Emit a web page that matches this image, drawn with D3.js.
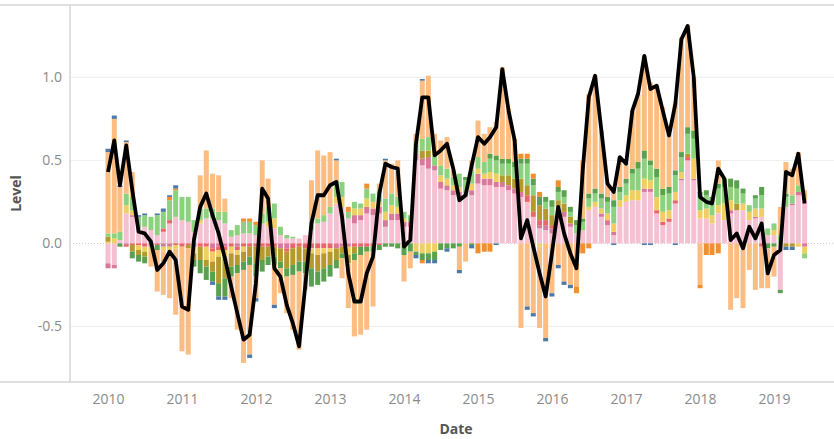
<!DOCTYPE html>
<html>
<head>
<meta charset="utf-8">
<script src="https://cdn.jsdelivr.net/npm/d3@7"></script>
<style>
  body { margin: 0; background: #fff; }
  svg { display: block; }
</style>
</head>
<body>
<script>
// monthly contributions, Jan 2010 .. Jun 2019
const firstMonth = new Date(2010, 0, 1)
const endMonth = new Date(2019, 6, 1)

const pink = [-0.12,-0.13,0.02,0.18,0.16,0.09,0.10,0.08,0.05,0.07, 0.12,0.16,0.14,0.13,0.07,0.12,0.15,0.15,0.14,0.12,
  0.04,0.05,0.06,0.06,0.05,0.12,0.10,0.09,0.05,0.03, 0.03,0.03,0.05,0.08,0.12,0.13,0.18,0.24,0.22,0.15,
  0.12,0.14,0.18,0.17,0.18,0.10,0.14,0.14,0.10,0.10, 0.50,0.47,0.45,0.44,0.33,0.32,0.29,0.28,0.28,0.29,
  0.36,0.35,0.35,0.34,0.34,0.32,0.30,0.28,0.25,0.16, 0.09,0.08,0.06,0.22,0.16,0.10,0.06,0.08,0.20,0.22,
  0.16,0.11,0.05,0.22,0.25,0.26,0.26,0.31,0.31,0.18, 0.11,0.13,0.24,0.38,0.50,0.38,0.15,0.15,0.12,0.18,
  0.14,0.18,0.20,0.20,0.14,0.15,0.16,0.05,0.05,-0.28, 0.22,0.23,0.29,0.26]

const dpink = [-0.03,-0.02,0,-0.01,0.01,0,0,-0.02,0,-0.02, -0.02,0,0,0,-0.02,0,0,-0.03,-0.02,-0.02,
  0,-0.02,0,0,0,0,0,0,-0.03,-0.03, 0,0,0,0,0,0,0,-0.03,-0.02,-0.02,
  0.05,0.03,0.04,0.04,0.04,0.04,0.04,0.04,0.03,0.03, 0.04,0.04,0.07,0.03,0.04,0.03,0.03,0.03,0.02,0.03,
  0.06,0.04,0.04,0.03,0.03,0.03,0.03,0.03,0,0, 0.02,0.03,0.03,0,0.03,0.02,0,0,0,0,
  0.02,0.03,0.02,0,0,0,0,0.02,0.02,0, 0,0,0,0.01,0,0.01,0,0,0,0,
  0,0.02,0,0,0,0.01,0,0,0,0, 0,0.01,0.02,-0.02]

const red = [0,0,0,-0.01,-0.01,-0.01,-0.02,0,-0.01,0.02, 0.02,-0.01,-0.02,-0.01,0,-0.02,-0.02,-0.02,-0.02,-0.02,
  -0.02,-0.02,-0.02,-0.02,-0.02,-0.02,-0.02,-0.02,0,-0.02, -0.03,-0.02,-0.03,-0.03,-0.03,-0.03,-0.03,0,0,0,
  -0.02,-0.02,-0.02,-0.02,-0.01,0,0,0,-0.02,0, 0,0,0,0,0,0,0,0,0,0,
  0,0,0,0,0,0,0,0,0.04,0.03, 0.03,0.03,0.02,0,0,0,0,0,0,0,
  0,0,0,0,0,0,0,0,0,0.02, 0.02,0.02,0.02,0,0.02,0,0,0,0,0,
  0,0,0,0,0,0,-0.02,0,0,0, 0,0,0,0]

const yellow = [0.01,0.03,0,0.05,0.03,-0.03,-0.03,-0.02,0,-0.03, -0.02,-0.02,0,0,-0.04,0.02,-0.08,-0.06,-0.04,-0.05,
  -0.04,-0.03,-0.03,0,0,0,0.03,0.06,0,0, 0,0,0,-0.03,-0.04,-0.03,-0.02,0.04,0.06,-0.05,
  0.04,0.04,0.05,0.04,0.03,0.05,0.05,0.04,0.02,0, -0.05,-0.06,-0.06,-0.05,0.04,0.04,0.03,0.03,0,0.04,
  0.03,0.03,0.04,0.05,0,0,0,0,0,0, -0.02,0,0,0,0,0,0,0,0.02,0.03,
  0.03,0.04,0.05,0.04,0.04,0.06,0.06,0.06,0.05,0.08, 0.06,0.05,0.05,0.04,0,0.12,0.05,0.06,0.05,0.05,
  0.10,0.06,0,0.04,0.05,0.05,0.05,0,0.03,0, 0,0,-0.02,-0.04]

const olive = [0.03,0,0,0,-0.04,-0.03,-0.03,0,0,0, 0,0,0,-0.02,-0.04,-0.08,-0.04,-0.06,-0.16,-0.12,
  -0.08,-0.06,-0.06,-0.06,-0.10,-0.08,-0.06,-0.06,-0.08,-0.10, -0.10,-0.09,-0.08,-0.09,-0.10,-0.09,-0.08,-0.07,-0.04,-0.05,
  -0.04,0,0,0,0,0,0,0,0,0, 0,0.05,0.04,0,0,0,0,0,0,0,
  0,0,0,0,0.04,0.06,0.06,0.08,0.06,0.10, 0.09,0.07,0.06,0.04,0.05,0.04,0,0,0,0,
  0,0,0,0,0,0,0,0,0,0, 0,0,0,0,0.02,0,0,0,0,0,
  0,0,0.04,0,0,0,0,0,0,0, -0.02,-0.02,0,0]

const lightGreen = [0.02,0.03,0.05,0.07,0.08,0.07,0.07,0.08,0.12,0.10, 0.12,0.16,0.14,0.15,0.07,0.07,0.06,0.06,0.05,0.07,
  0.04,0.06,0.07,0.07,0.06,0.06,0.09,0.09,0.05,0.02, 0.01,0,0,0.03,0.03,0.04,0.04,0.10,0.09,0.04,
  0.04,0.03,0.06,0.05,0.07,0.08,0.07,0.06,0.04,0.04, 0.07,0.07,0.08,0.06,0.06,0.06,0.05,0.08,0.08,0.08,
  0.07,0.07,0.08,0.08,0.07,0.07,0.07,0.09,0.13,0.06, 0,0.04,0.05,0.05,0.04,0.03,0.05,0.05,0.05,0.05,
  0.06,0.07,0.10,0.05,0.07,0.10,0.13,0.12,0.09,0.12, 0.10,0.10,0.10,0.09,0.12,0.12,0.08,0.08,0.08,0.10,
  0.10,0.08,0.09,0.06,0.04,0.06,0.08,0.04,0.04,0.05, 0.06,0.05,0.04,-0.03]

const green = [0,0,-0.02,0,-0.04,-0.04,-0.04,0,-0.03,0, 0,0,0,0,-0.04,-0.08,-0.08,-0.06,-0.08,-0.11,
  -0.06,-0.05,-0.05,-0.05,-0.08,-0.07,-0.05,-0.05,-0.04,-0.05, -0.06,-0.06,-0.07,-0.11,-0.08,-0.08,-0.07,-0.05,-0.03,0,
  -0.04,-0.05,-0.03,-0.03,-0.03,-0.02,-0.02,-0.03,-0.05,-0.05, -0.02,-0.04,-0.04,-0.05,-0.04,-0.03,-0.03,-0.02,0.02,-0.01,
  0,0,0.03,0.03,0.03,0.03,0.03,0.03,0.03,0.04, 0.05,0.03,0.04,0.03,0.04,0.03,0.03,0.02,0.03,0.03,
  0.03,0.03,0.04,0.03,0.03,0.03,0.04,0.05,0.03,0.05, 0.04,0.04,0.03,0.03,0.04,0.05,0.03,0.03,0.03,0.03,
  0.05,0.05,0.05,0.03,0,0.02,0.05,-0.03,-0.02,-0.02, 0.02,0,0,0]

const peach = [0.49,0.69,0.27,0.31,0.15,0,0,-0.10,-0.25,-0.26, -0.29,-0.40,-0.63,-0.64,0,0.20,0.35,0.21,0.22,0.08,
  -0.13,-0.34,-0.56,-0.54,-0.13,0.32,0.17,-0.24,-0.15,-0.22, -0.33,-0.47,-0.10,0.27,0.41,0.36,0.33,0.12,-0.12,-0.27,
  -0.46,-0.48,-0.47,-0.33,0.04,0.23,0.18,0.22,-0.16,-0.10, 0.05,0.35,0.37,0.13,0.15,0.19,0.04,-0.14,-0.11,0.06,
  0.22,0.17,0.16,0.20,0.55,0.30,0.14,-0.51,-0.38,-0.42, -0.49,-0.57,-0.30,-0.13,-0.23,-0.25,-0.26,0.35,0.60,0.68,
  0.38,0.09,0.05,0.18,0.09,0.35,0.41,0.57,0.47,0.50, 0.49,0.32,0.41,0.69,0.61,0.32,-0.25,0,0,0.14,
  0,-0.40,-0.33,-0.39,-0.16,-0.28,-0.25,-0.24,-0.18,0.17, 0.19,0.16,0.20,0.06]

const orange = [0,0,0,0,0,0,0,0,0,0, 0.02,0.01,0,0,0,0,0,0,0,0,
  0,0,0.02,0.02,0.02,0,0,0,0,0, 0,0,0,0,0,0,0,0,0,0.03,
  0,0,0.03,0,0,0,0,0,0,0, 0,-0.02,0,0,0,0,0,0,0,0,
  -0.06,-0.05,-0.05,0,0,0,0,0.03,0.03,0.03, 0.03,0,0,0.04,0,0,-0.04,-0.06,-0.03,0,
  0,0,0,0,0,0,0,0,0,0, 0,0,0,0,0,0,-0.02,-0.07,-0.07,-0.06,
  0,0,0,0,0,0,0,0,0,0, 0,0,0,0]

const blue = [0.02,0.02,0.01,0.01,0,0.01,0.01,0,0.01,0.02, 0.01,0.02,0,0,0,0,0,-0.02,-0.02,-0.02,
  0,0,0,-0.02,-0.02,0,0,-0.02,0,0, 0,0,0,0,0,0,0,0.01,0,0,
  0,0,0,0,0,0.01,0,0,0,0, -0.02,0.01,-0.02,-0.02,0,-0.02,0,-0.02,0,-0.02,
  0,0,0,-0.01,0,0,0,0,-0.02,-0.02, 0,-0.02,-0.02,-0.02,-0.02,-0.02,0,0,0,0,
  0,0,-0.01,0,0,0,0,-0.01,-0.01,0, 0,0,-0.01,0,0,0,0,0,0,0,
  0,0,0,0,0,0,0,0,0,0, -0.02,-0.02,0,0]

// total level (black line)
const level = [0.43,0.62,0.35,0.59,0.32,0.07,0.06,0.01,-0.16,-0.12, -0.05,-0.10,-0.38,-0.40,0.02,0.22,0.30,0.17,0.06,-0.09,
  -0.26,-0.42,-0.58,-0.55,-0.24,0.33,0.27,-0.15,-0.20,-0.37, -0.48,-0.62,-0.25,0.12,0.29,0.29,0.35,0.37,0.16,-0.18,
  -0.35,-0.35,-0.18,-0.08,0.30,0.48,0.46,0.45,-0.02,0.02, 0.60,0.88,0.88,0.53,0.56,0.60,0.45,0.26,0.29,0.47,
  0.64,0.60,0.64,0.70,1.05,0.80,0.62,0.03,0.14,-0.02, -0.18,-0.32,-0.06,0.22,0.06,-0.06,-0.15,0.44,0.88,1.01,
  0.68,0.36,0.31,0.52,0.48,0.80,0.90,1.13,0.93,0.95, 0.80,0.65,0.84,1.23,1.31,1.00,0.28,0.25,0.24,0.45,
  0.39,0.02,0.06,-0.03,0.10,0.03,0.12,-0.18,-0.07,-0.04, 0.43,0.41,0.54,0.24]

const yTicks = [-0.5, 0, 0.5, 1.0]

const keys = ['pink', 'dpink', 'red', 'yellow', 'olive', 'lightGreen', 'green', 'peach', 'orange', 'blue']
const values = { pink, dpink, red, yellow, olive, lightGreen, green, peach, orange, blue }
const colors = {
  pink: '#F5C0D2', dpink: '#D8799C', red: '#E8666A', yellow: '#F1CE63', olive: '#B6992D',
  lightGreen: '#8CD17D', green: '#59A14F', peach: '#FCBD82', orange: '#F28E2B', blue: '#4E79A7'
}

const months = d3.timeMonth.range(firstMonth, endMonth)
const rows = months.map((m, i) => {
  const r = { date: m }
  keys.forEach(k => { r[k] = values[k][i] })
  return r
})

const width = 834
const height = 439
const plot = { left: 70, right: 834, top: 5, bottom: 382 }

const svg = d3.select('body').append('svg')
  .attr('width', width)
  .attr('height', height)
  .style('font-family', "'Open Sans', sans-serif")

const x = d3.scaleTime()
  .domain([new Date(2010, 0, 1), new Date(2019, 0, 1)])
  .range([108, 774])

const y = d3.scaleLinear()
  .domain([-0.835, 1.436])
  .range([plot.bottom, plot.top])

// gridlines
svg.append('g')
  .selectAll('line')
  .data(yTicks.filter(t => t !== 0))
  .enter().append('line')
  .attr('x1', plot.left).attr('x2', plot.right)
  .attr('y1', d => y(d)).attr('y2', d => y(d))
  .style('stroke', '#eeeeee')
  .style('stroke-width', 1)

svg.append('line')
  .attr('x1', plot.left).attr('x2', plot.right)
  .attr('y1', y(0)).attr('y2', y(0))
  .style('stroke', '#c8c8c8')
  .style('stroke-width', 1)
  .style('stroke-dasharray', '1,2')

// stacked bars
const stacked = d3.stack()
  .keys(keys)
  .offset(d3.stackOffsetDiverging)(rows)

const barW = 5
svg.append('g')
  .selectAll('g')
  .data(stacked)
  .enter().append('g')
  .style('fill', d => colors[d.key])
  .selectAll('rect')
  .data(d => d.filter(s => s[1] !== s[0]))
  .enter().append('rect')
  .attr('x', d => x(d.data.date) - barW / 2)
  .attr('width', barW)
  .attr('y', d => y(Math.max(d[0], d[1])))
  .attr('height', d => Math.abs(y(d[0]) - y(d[1])))

// level line
const line = d3.line()
  .x((d, i) => x(months[i]))
  .y(d => y(d))

svg.append('path')
  .datum(level)
  .attr('d', line)
  .style('fill', 'none')
  .style('stroke', '#000')
  .style('stroke-width', 3.8)
  .style('stroke-linejoin', 'round')

// frame
const frame = svg.append('g').style('stroke', '#d6d6d6').style('stroke-width', 1.5)
frame.append('line').attr('x1', 0).attr('x2', width).attr('y1', plot.top).attr('y2', plot.top)
frame.append('line').attr('x1', 0).attr('x2', width).attr('y1', plot.bottom).attr('y2', plot.bottom)
frame.append('line').attr('x1', plot.left).attr('x2', plot.left).attr('y1', plot.top).attr('y2', plot.bottom)

// axes
const xAxis = svg.append('g')
  .attr('transform', `translate(0, ${plot.bottom})`)
  .call(d3.axisBottom(x)
    .ticks(d3.timeYear.every(1))
    .tickFormat(d3.timeFormat('%Y'))
    .tickSize(0)
    .tickPadding(12))
xAxis.select('.domain').remove()
xAxis.selectAll('text')
  .style('font-family', "'Open Sans', sans-serif")
  .style('font-size', '14px')
  .style('fill', '#8a8a8a')

const yAxis = svg.append('g')
  .attr('transform', `translate(${plot.left}, 0)`)
  .call(d3.axisLeft(y)
    .tickValues(yTicks)
    .tickFormat(d => d.toFixed(1))
    .tickSize(0)
    .tickPadding(8))
yAxis.select('.domain').remove()
yAxis.selectAll('text')
  .style('font-family', "'Open Sans', sans-serif")
  .style('font-size', '14px')
  .style('fill', '#8a8a8a')

svg.append('text')
  .attr('x', 456)
  .attr('y', 434)
  .style('text-anchor', 'middle')
  .style('font-size', '14px')
  .style('font-weight', 'bold')
  .style('fill', '#555')
  .text('Date')

svg.append('text')
  .attr('transform', `translate(21, ${(plot.top + plot.bottom) / 2}) rotate(-90)`)
  .style('text-anchor', 'middle')
  .style('font-size', '14px')
  .style('font-weight', 'bold')
  .style('fill', '#555')
  .text('Level')
</script>
</body>
</html>
